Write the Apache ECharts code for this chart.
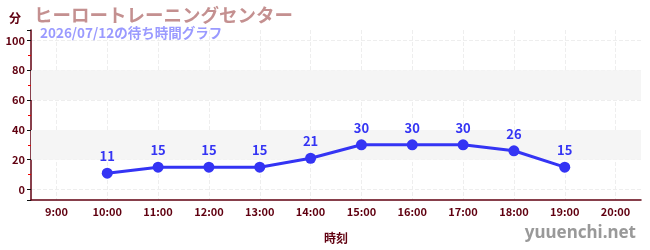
<!DOCTYPE html>
<html>
<head>
<meta charset="utf-8">
<script src="https://cdn.jsdelivr.net/npm/echarts@6/dist/echarts.min.js"></script>
<style>
  html, body { margin: 0; padding: 0; background: #fff; }
  #main { width: 650px; height: 250px; }
</style>
</head>
<body>
<div id="main"></div>
<script>
var hours = ['9:00','10:00','11:00','12:00','13:00','14:00','15:00','16:00','17:00','18:00','19:00','20:00'];
var waits = [null, 11, 15, 15, 15, 21, 30, 30, 30, 26, 15, null];
var bands = [[20, 40], [60, 80]];

var font = 'Noto Sans CJK JP';
var axisColor = '#600010';

var myChart = echarts.init(document.getElementById('main'));

var option = {
    animation: false,
    textStyle: { fontFamily: font },
    title: [
        {
            text: 'ヒーロートレーニングセンター',
            left: 29, top: 1,
            textStyle: { color: '#c49090', fontSize: 18.5, fontWeight: 'bold', fontFamily: font }
        },
        {
            text: '2026/07/12の待ち時間グラフ',
            left: 35, top: 21,
            textStyle: { color: '#9a9aff', fontSize: 13.5, fontWeight: 'bold', fontFamily: font }
        }
    ],
    graphic: [
        {
            type: 'text', right: 14, bottom: 8,
            style: { text: 'yuuenchi.net', fill: '#999', font: 'bold 17px "Noto Sans", sans-serif' }
        }
    ],
    grid: { left: 31, right: 9, top: 30, bottom: 50 },
    xAxis: {
        type: 'category',
        data: hours,
        boundaryGap: true,
        name: '時刻',
        nameLocation: 'middle',
        nameGap: 32,
        nameTextStyle: { color: axisColor, fontSize: 12, fontWeight: 'bold' },
        axisLine: { onZero: false, lineStyle: { color: axisColor, width: 1.5 } },
        axisTick: { alignWithLabel: true, length: 4, lineStyle: { color: '#888' } },
        axisLabel: { color: axisColor, fontSize: 11, fontWeight: 'bold', margin: 6 },
        splitLine: { show: true, alignWithLabel: true, lineStyle: { color: '#eee', type: 'dashed' } }
    },
    yAxis: {
        type: 'value',
        min: -7,
        max: 107,
        splitNumber: 6,
        name: '分',
        nameLocation: 'end',
        nameGap: 6,
        nameTextStyle: { color: axisColor, fontSize: 12, fontWeight: 'bold', align: 'right', padding: [0, 10, 0, 0] },
        axisLine: { show: true, lineStyle: { color: axisColor, width: 1.5 } },
        axisTick: { show: true, length: 4, lineStyle: { color: '#111' } },
        minorTick: { show: true, splitNumber: 2, length: 3, lineStyle: { color: '#e00' } },
        axisLabel: {
            color: axisColor, fontSize: 11, fontWeight: 'bold', margin: 6,
            showMinLabel: false, showMaxLabel: false,
            formatter: function (v) { return v % 20 === 0 ? v : ''; }
        },
        splitLine: { showMinLine: false, showMaxLine: false, lineStyle: { color: '#eee', type: 'dashed' } }
    },
    series: [
        {
            type: 'line',
            data: waits,
            color: '#3434f4',
            lineStyle: { width: 3 },
            symbol: 'circle',
            symbolSize: 11,
            label: { show: true, position: 'top', color: '#3434f4', fontSize: 13, fontWeight: 'bold' },
            markArea: {
                silent: true,
                itemStyle: { color: '#f5f5f5' },
                data: bands.map(function (b) { return [{ yAxis: b[0] }, { yAxis: b[1] }]; })
            }
        }
    ]
};
myChart.setOption(option);

window.addEventListener('resize', function () {
    myChart.resize();
});
</script>
</body>
</html>
